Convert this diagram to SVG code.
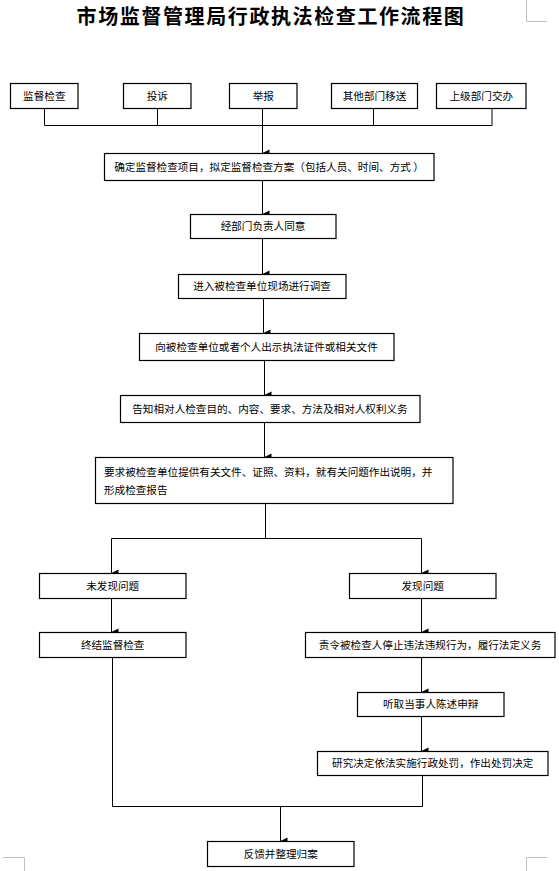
<svg xmlns="http://www.w3.org/2000/svg" width="559" height="871" viewBox="0 0 559 871">
<style>
.box{fill:#fff;stroke:#000;stroke-width:1.2}
.t{font-family:"Noto Sans CJK SC","Noto Sans",sans-serif;font-size:10.6px;fill:#000;text-anchor:middle}
.tl{font-family:"Noto Sans CJK SC","Noto Sans",sans-serif;font-size:10.6px;fill:#000}
.ln{fill:none;stroke:#000;stroke-width:1}
.crn{fill:none;stroke:#bfbfbf;stroke-width:1}
</style>
<defs>
<marker id="ah" markerUnits="userSpaceOnUse" markerWidth="8" markerHeight="8" viewBox="0 0 8 8" refX="4" refY="8" orient="auto-start-reverse">
<path d="M0.5,1 L7.5,1 L4,8 Z" fill="#000"/>
</marker>
</defs>
<rect width="559" height="871" fill="#fff"/>
<text x="271" y="23.5" font-family="'Noto Sans CJK SC',sans-serif" font-size="20" letter-spacing="1.6" font-weight="bold" text-anchor="middle" fill="#000">市场监督管理局行政执法检查工作流程图</text>
<g id="corners">
<path class="crn" d="M526.5,0 V21.5 H547"/>
<path class="crn" d="M3,857.5 H24.5 V871"/>
<path class="crn" d="M547,857.5 H526.5 V871"/>
</g>
<g id="connectors">
<path class="ln" d="M44.5,108 V125.5 H492 V108"/>
<path class="ln" d="M157.5,108 V125.5"/>
<path class="ln" d="M373.5,108 V125.5"/>
<path class="ln" d="M262.5,108 V153" marker-end="url(#ah)"/>
<path class="ln" d="M262.5,180 V214" marker-end="url(#ah)"/>
<path class="ln" d="M262.5,238 V274" marker-end="url(#ah)"/>
<path class="ln" d="M263.5,298 V333" marker-end="url(#ah)"/>
<path class="ln" d="M264.5,360 V395" marker-end="url(#ah)"/>
<path class="ln" d="M264.5,422 V457" marker-end="url(#ah)"/>
<path class="ln" d="M265.5,503 V538.5"/>
<path class="ln" d="M111.5,573 V538.5 H421.5 V573" marker-start="url(#ah)" marker-end="url(#ah)"/>
<path class="ln" d="M111.5,598 V632" marker-end="url(#ah)"/>
<path class="ln" d="M421.5,598 V632" marker-end="url(#ah)"/>
<path class="ln" d="M421.5,657 V692" marker-end="url(#ah)"/>
<path class="ln" d="M421.5,716 V751" marker-end="url(#ah)"/>
<path class="ln" d="M112.5,657 V806.5 H422.5 V775"/>
<path class="ln" d="M280.5,806.5 V841" marker-end="url(#ah)"/>
</g>
<g id="n1"><rect class="box" x="10.5" y="83.5" width="67.5" height="25"/><text class="t" x="44.3" y="99.8">监督检查</text></g>
<g id="n2"><rect class="box" x="123.5" y="83.5" width="67.5" height="25"/><text class="t" x="157.3" y="99.8">投诉</text></g>
<g id="n3"><rect class="box" x="229.5" y="83.5" width="67.5" height="25"/><text class="t" x="263.3" y="99.8">举报</text></g>
<g id="n4"><rect class="box" x="331.5" y="83.5" width="86" height="25"/><text class="t" x="374.5" y="99.8">其他部门移送</text></g>
<g id="n5"><rect class="box" x="436.5" y="83.5" width="89.5" height="25"/><text class="t" x="481.3" y="99.8">上级部门交办</text></g>
<g id="n6"><rect class="box" x="104.5" y="153.5" width="329.5" height="27"/><text class="t" x="269" y="171">确定监督检查项目，拟定监督检查方案（包括人员、时间、方式 ）</text></g>
<g id="n7"><rect class="box" x="190.5" y="214.5" width="145.5" height="24"/><text class="t" x="263" y="230.3">经部门负责人同意</text></g>
<g id="n8"><rect class="box" x="178.5" y="274.5" width="167.5" height="24"/><text class="t" x="262" y="290.3">进入被检查单位现场进行调查</text></g>
<g id="n9"><rect class="box" x="139.5" y="333.5" width="254.5" height="27"/><text class="t" x="266.5" y="351">向被检查单位或者个人出示执法证件或相关文件</text></g>
<g id="n10"><rect class="box" x="120.5" y="395.5" width="299.5" height="27"/><text class="t" x="270" y="413">告知相对人检查目的、内容、要求、方法及相对人权利义务</text></g>
<g id="n11"><rect class="box" x="95.5" y="457.5" width="357.5" height="46"/><text class="tl" x="104" y="475.5">要求被检查单位提供有关文件、证照、资料，就有关问题作出说明，并</text><text class="tl" x="104" y="494">形成检查报告</text></g>
<g id="n12"><rect class="box" x="39.5" y="573.5" width="146.5" height="25"/><text class="t" x="112.7" y="589.8">未发现问题</text></g>
<g id="n13"><rect class="box" x="349.5" y="573.5" width="146.5" height="25"/><text class="t" x="422.7" y="589.8">发现问题</text></g>
<g id="n14"><rect class="box" x="39.5" y="632.5" width="146.5" height="25"/><text class="t" x="112.7" y="648.8">终结监督检查</text></g>
<g id="n15"><rect class="box" x="305.5" y="632.5" width="249.5" height="25"/><text class="t" x="430" y="648.8">责令被检查人停止违法违规行为，履行法定义务</text></g>
<g id="n16"><rect class="box" x="357.5" y="692.5" width="146.5" height="24"/><text class="t" x="430.7" y="708.3">听取当事人陈述申辩</text></g>
<g id="n17"><rect class="box" x="317.5" y="751.5" width="230.5" height="24"/><text class="t" x="432.7" y="767.3">研究决定依法实施行政处罚，作出处罚决定</text></g>
<g id="n18"><rect class="box" x="207.5" y="841.5" width="146.5" height="25"/><text class="t" x="280.7" y="857.8">反馈并整理归案</text></g>
</svg>
